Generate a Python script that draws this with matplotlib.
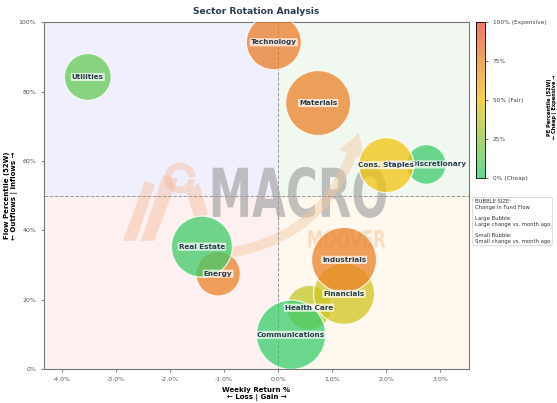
import numpy as np
import matplotlib
matplotlib.use("Agg")
import matplotlib.pyplot as plt
import matplotlib.transforms as mtransforms
from matplotlib.colors import LinearSegmentedColormap
from matplotlib.patches import Rectangle, PathPatch, FancyArrowPatch, Arc, Polygon
from matplotlib.textpath import TextPath
from matplotlib.font_manager import FontProperties

# Sector data
sectors = ['Utilities', 'Technology', 'Materials', 'Cons. Staples', 'Cons. Discretionary',
           'Real Estate', 'Energy', 'Communications', 'Health Care', 'Financials',
           'Industrials']
weekly_return = [-3.52, -0.08, 0.74, 2.00, 2.74, -1.41, -1.11, 0.24, 0.57, 1.22, 1.22]
flow_pct = [84.2, 94.2, 76.7, 58.8, 59.0, 35.3, 27.5, 9.9, 17.7, 21.7, 31.5]
pe_pct = [14, 80, 78, 50, 4, 5, 78, 3, 38, 42, 78]
flow_change = [5.3, 7.3, 10.2, 7.3, 3.8, 9.0, 4.8, 11.6, 4.8, 9.0, 10.2]

cbar_ticks = [0, 25, 50, 75, 100]
cbar_labels = ['0% (Cheap)', '25%', '50% (Fair)', '75%', '100% (Expensive)']

navy = '#2c3e50'
peach = '#f7b58f'
cmap = LinearSegmentedColormap.from_list('pe', ['#2ecc71', '#f1c40f', '#e74c3c'])

fig = plt.figure(figsize=(5.57, 4.03), dpi=100)
ax = fig.add_axes([0.079, 0.084, 0.763, 0.861])
cax = fig.add_axes([0.8546, 0.558, 0.0162, 0.387])

xmin, xmax = -4.33, 3.53
ax.set_xlim(xmin, xmax)
ax.set_ylim(0, 100)

# quadrant backgrounds
ax.add_patch(Rectangle((xmin, 50), -xmin, 50, color='#f0f0fd', zorder=0, lw=0))
ax.add_patch(Rectangle((0, 50), xmax, 50, color='#f0f8f0', zorder=0, lw=0))
ax.add_patch(Rectangle((xmin, 0), -xmin, 50, color='#fdf0f0', zorder=0, lw=0))
ax.add_patch(Rectangle((0, 0), xmax, 50, color='#fef8ef', zorder=0, lw=0))


def px(pts):
    # watermark outline given in picture pixels
    return [((u - 278) / 54.0, 100 - (v - 22) / 3.475) for u, v in pts]


def add_word(word, x0, x1, y0, y1, color, alpha):
    tp = TextPath((0, 0), word, size=1,
                  prop=FontProperties(family='DejaVu Sans', weight='bold'))
    bb = tp.get_extents()
    tr = (mtransforms.Affine2D().translate(-bb.x0, -bb.y0)
          .scale((x1 - x0) / bb.width, (y1 - y0) / bb.height).translate(x0, y0))
    ax.add_patch(PathPatch(tr.transform_path(tp), color=color, alpha=alpha,
                           lw=0, zorder=1))


# watermark logo
for shape in ([(123, 241), (136, 241), (155, 185), (145, 181)],
              [(141, 241), (154, 241), (178, 179), (163, 175)],
              [(186, 192), (199, 183), (208, 214), (196, 222)]):
    ax.add_patch(Polygon(px(shape), closed=True, color=peach, alpha=0.4, lw=0,
                         zorder=1))
(hx, hy), = px([(180, 178)])
ax.add_patch(Arc((hx, hy), 24 / 54, 24 / 3.475, theta1=30, theta2=300, color=peach,
                 alpha=0.4, lw=5, zorder=1))
add_word('MACRO', -1.21, 2.0, 43.6, 58.3, '#9a9a9a', 0.6)
add_word('MOOVER', 0.56, 1.98, 35.0, 40.1, '#f6c9a0', 0.6)
ax.add_patch(FancyArrowPatch((-1.15, 33), (1.5, 69), connectionstyle='arc3,rad=0.35',
                             arrowstyle='simple,head_width=1.6,head_length=1.4,tail_width=0.6',
                             mutation_scale=12, color='#f5c8a0', alpha=0.45, lw=0,
                             zorder=1))

ax.axvline(0, color='#999999', ls='--', lw=0.7, zorder=2)
ax.axhline(50, color='#999999', ls='--', lw=0.7, zorder=2)

# bubbles, smaller first
order = np.argsort(flow_change, kind='stable')
x = np.array(weekly_return)[order]
y = np.array(flow_pct)[order]
c = np.array(pe_pct)[order]
s = np.array(flow_change)[order] * 215
sc = ax.scatter(x, y, s=s, c=c, cmap=cmap, vmin=0, vmax=100, alpha=0.75,
                edgecolors='white', linewidths=1, zorder=3)
for i in order:
    ax.text(weekly_return[i], flow_pct[i], sectors[i], fontsize=5.2,
            fontweight='bold', color=navy, ha='center', va='center', zorder=4,
            bbox=dict(boxstyle='round,pad=0.15', fc='white', ec='none', alpha=0.7))

ax.set_xticks([-4, -3, -2, -1, 0, 1, 2, 3])
ax.set_xticklabels([f'{v:.1f}%' for v in [-4, -3, -2, -1, 0, 1, 2, 3]])
ax.set_yticks([0, 20, 40, 60, 80, 100])
ax.set_yticklabels([f'{v}%' for v in [0, 20, 40, 60, 80, 100]])
ax.tick_params(labelsize=4.5, colors='#555555', length=2, width=0.5)
for sp in ax.spines.values():
    sp.set_color('#777777')
    sp.set_linewidth(0.8)

ax.set_xlabel('Weekly Return %\n\u2190 Loss | Gain \u2192', fontsize=5,
              fontweight='bold', labelpad=4, linespacing=1.1)
ax.set_ylabel('Flow Percentile (52W)\n\u2190 Outflows | Inflows \u2192', fontsize=5,
              fontweight='bold', linespacing=1.1)
ax.yaxis.set_label_coords(-0.062, 0.5)
ax.set_title('Sector Rotation Analysis', fontsize=6.6, fontweight='bold', color=navy,
             pad=6)

cb = fig.colorbar(sc, cax=cax)
cb.set_ticks(cbar_ticks)
cb.set_ticklabels(cbar_labels)
cb.ax.tick_params(labelsize=4.2, colors='#444444', length=2, width=0.5)
cb.outline.set_linewidth(0.6)
fig.text(552 / 557, 1 - 107 / 403, 'PE Percentile (52W)\n\u2190 Cheap | Expensive \u2192',
         fontsize=3.7, fontweight='bold', rotation=90, ha='center', va='center',
         linespacing=1.1)

fig.text(0.8525, 0.505,
         'BUBBLE SIZE:\nChange in Fund Flow\n\nLarge Bubble:\nLarge change vs. month ago'
         '\n\nSmall Bubble:\nSmall change vs. month ago',
         fontsize=3.8, color='#333333', va='top', ha='left', linespacing=1.15,
         bbox=dict(boxstyle='round,pad=0.4', fc='white', ec='#cccccc', lw=0.5))

fig.savefig('out.png', dpi=100)
